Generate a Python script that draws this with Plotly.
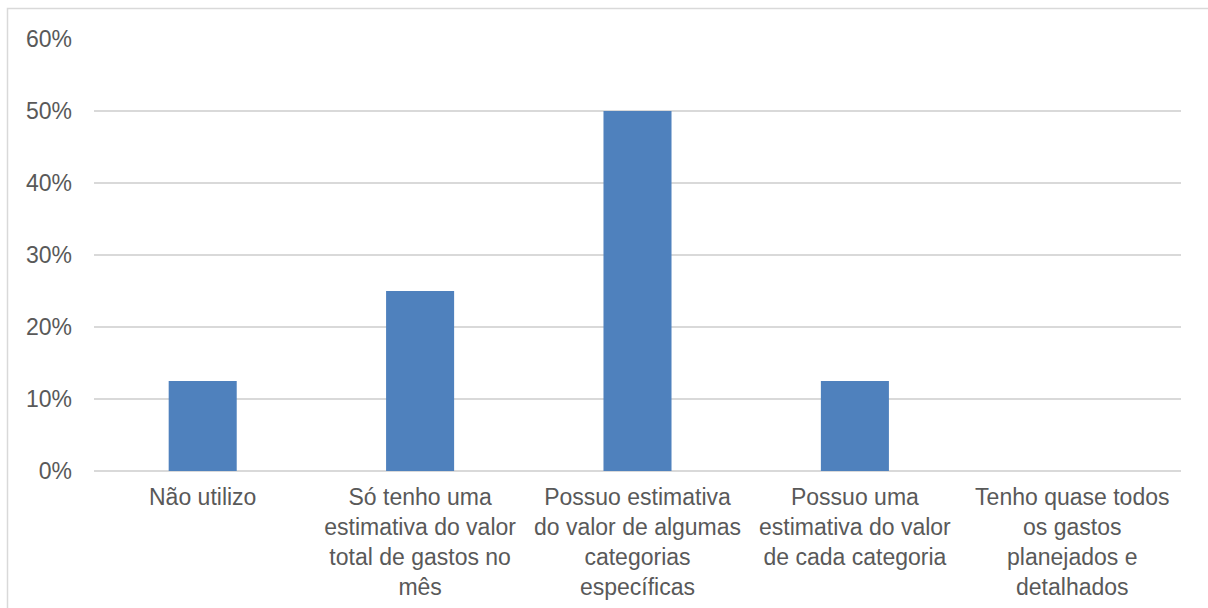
import plotly.graph_objects as go

categories = [
    "Não utilizo",
    "Só tenho uma<br>estimativa do valor<br>total de gastos no<br>mês",
    "Possuo estimativa<br>do valor de algumas<br>categorias<br>específicas",
    "Possuo uma<br>estimativa do valor<br>de cada categoria",
    "Tenho quase todos<br>os gastos<br>planejados e<br>detalhados",
]
shares = [0.125, 0.25, 0.50, 0.125, 0.0]
y_ticks = [0, 0.1, 0.2, 0.3, 0.4, 0.5, 0.6]
y_tick_labels = ["0%", "10%", "20%", "30%", "40%", "50%", "60%"]

text_color = "#595959"
grid_color = "#d9d9d9"
font = dict(family="Liberation Sans, Arial, sans-serif", size=23, color=text_color)

fig = go.Figure(
    go.Bar(
        x=categories,
        y=shares,
        marker=dict(color="#4f81bd", line=dict(width=0)),
        hoverinfo="skip",
    )
)

fig.update_layout(
    width=1208,
    height=608,
    margin=dict(l=94, r=27, t=39, b=137),
    paper_bgcolor="white",
    plot_bgcolor="white",
    font=font,
    bargap=0.687,
    showlegend=False,
    shapes=[
        # outer chart frame (light gray)
        dict(
            type="rect",
            xref="paper",
            yref="paper",
            x0=(7.5 - 94) / 1087,
            x1=(1230 - 94) / 1087,
            y0=(471 - 640) / 432,
            y1=(471 - 8.5) / 432,
            line=dict(color=grid_color, width=1.5),
            layer="below",
        )
    ],
)

fig.update_xaxes(
    tickfont=font,
    showgrid=False,
    showline=False,
    ticks="",
    ticklabelstandoff=10,
    tickangle=0,
    automargin=False,
)
fig.update_yaxes(
    range=[0, 0.6],
    tickvals=y_ticks,
    ticktext=y_tick_labels,
    tickfont=font,
    showgrid=True,
    gridcolor=grid_color,
    gridwidth=1.5,
    zeroline=True,
    zerolinecolor=grid_color,
    zerolinewidth=1.5,
    showline=False,
    ticks="",
    ticklabelstandoff=21,
    automargin=False,
)

fig.write_html("out.html")
